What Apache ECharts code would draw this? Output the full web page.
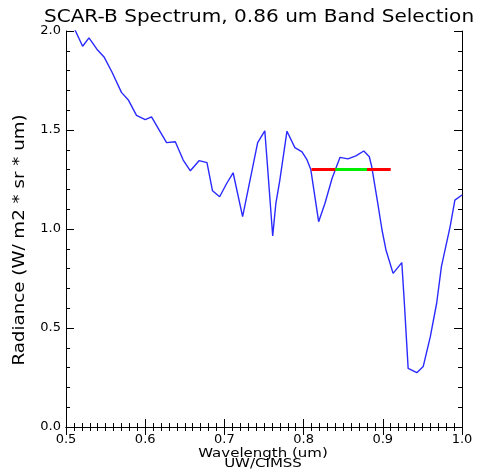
<!DOCTYPE html>
<html><head><meta charset="utf-8">
<script src="https://cdn.jsdelivr.net/npm/echarts@6/dist/echarts.min.js"></script>
<style>html,body{margin:0;padding:0;background:#fff}#c{width:482px;height:474px}</style>
</head><body><div id="c"></div>
<script>
const wavelength = [0.505,0.521,0.529,0.539,0.548,0.558,0.570,0.579,0.589,0.600,0.608,0.619,0.627,0.638,0.648,0.657,0.668,0.678,0.685,0.694,0.703,0.711,0.723,0.732,0.742,0.751,0.754,0.761,0.765,0.770,0.779,0.789,0.798,0.804,0.809,0.819,0.827,0.836,0.846,0.856,0.866,0.876,0.883,0.886,0.893,0.899,0.904,0.913,0.924,0.927,0.932,0.943,0.951,0.960,0.968,0.974,0.985,0.991,1.000];
const radiance   = [2.06,1.923,1.965,1.908,1.869,1.793,1.690,1.650,1.574,1.552,1.566,1.491,1.436,1.441,1.348,1.294,1.345,1.335,1.193,1.163,1.231,1.284,1.062,1.239,1.436,1.496,1.340,0.965,1.130,1.247,1.494,1.411,1.390,1.352,1.302,1.037,1.130,1.256,1.362,1.354,1.369,1.394,1.365,1.315,1.146,0.995,0.894,0.776,0.830,0.641,0.296,0.274,0.305,0.456,0.625,0.810,1.012,1.146,1.172];
const bandFull = [[0.81,1.30],[0.91,1.30]];
const bandSel  = [[0.84,1.30],[0.88,1.30]];
const xTicks = [0.5,0.6,0.7,0.8,0.9,1.0];
const yTicks = [0.0,0.5,1.0,1.5,2.0];
const titleText = 'SCAR-B Spectrum, 0.86 um Band Selection';
const xName = 'Wavelength (um)';
const yName = 'Radiance (W/ m2 * sr * um)';
const credit = 'UW/CIMSS';

const font = 'DejaVu Sans';
const chart = echarts.init(document.getElementById('c'));
const tickCommon = {inside:true, length:8, lineStyle:{color:'#000'}};
const xBase = {type:'value', min:xTicks[0], max:xTicks[xTicks.length-1], interval:0.1,
  axisLine:{lineStyle:{color:'#000',width:1}}, splitLine:{show:false},
  axisTick:tickCommon, minorTick:{show:true, splitNumber:10, length:4, lineStyle:{color:'#000'}}};
const yBase = {type:'value', min:yTicks[0], max:yTicks[yTicks.length-1], interval:0.5,
  axisLine:{show:true, lineStyle:{color:'#000',width:1}}, splitLine:{show:false},
  axisTick:tickCommon, minorTick:{show:true, splitNumber:5, length:4, lineStyle:{color:'#000'}}};
const txt = (text, x, y, size, sx, rot) => ({type:'text', x:x, y:y, scaleX:sx, rotation:rot||0,
  style:{text:text, fontFamily:font, fontSize:size, fill:'#000', textAlign:'center', textVerticalAlign:'middle'}});
chart.setOption({
  animation:false,
  backgroundColor:'#fff',
  grid:{left:66, right:20, top:31, bottom:47},
  xAxis:[
    Object.assign({}, xBase, {position:'bottom',
      axisLabel:{fontFamily:font, fontSize:13, color:'#000', margin:6, formatter:v=>v.toFixed(1)}}),
    Object.assign({}, xBase, {position:'top', axisLabel:{show:false}})
  ],
  yAxis:[
    Object.assign({}, yBase, {position:'left',
      axisLabel:{fontFamily:font, fontSize:13, color:'#000', margin:5, formatter:v=>v.toFixed(1)}}),
    Object.assign({}, yBase, {position:'right', axisLabel:{show:false}})
  ],
  graphic:[
    txt(titleText, 259, 18, 17, 1.18),
    txt(xName, 263, 454, 12, 1.25),
    txt(credit, 263, 464, 12, 1.25),
    txt(yName, 20, 240, 16, 1.14, Math.PI/2)
  ],
  series:[
    {type:'line', data:wavelength.map((w,i)=>[w,radiance[i]]), showSymbol:false, clip:true,
      lineStyle:{color:'#2a2aff', width:1.4}},
    {type:'line', data:bandFull, showSymbol:false, lineStyle:{color:'#ff0000', width:3}},
    {type:'line', data:bandSel, showSymbol:false, lineStyle:{color:'#00ee00', width:3}}
  ]
});
</script></body></html>
